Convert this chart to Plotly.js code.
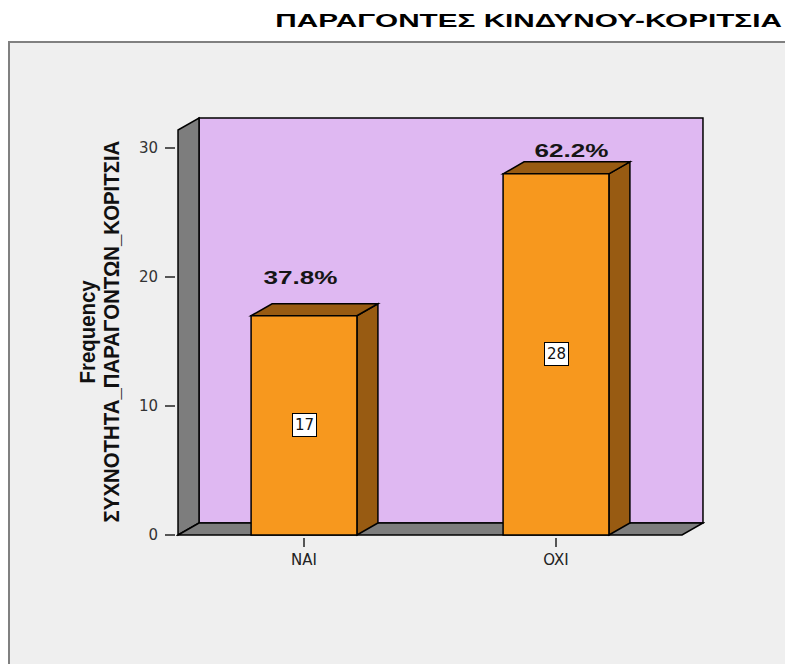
<!DOCTYPE html>
<html>
<head>
<meta charset="utf-8">
<script src="https://cdn.plot.ly/plotly-3.0.1.min.js"></script>
<style>
html,body{margin:0;padding:0;background:#ffffff;overflow:hidden;width:785px;height:664px;}
#frame{position:absolute;left:8px;top:41px;width:820px;height:700px;border:2px solid #808080;background:#efefef;box-sizing:border-box;}
#chart{position:absolute;left:0;top:0;width:785px;height:664px;}
</style>
</head>
<body>
<div id="frame"></div>
<div id="chart"></div>
<script>
// ---- data ----
const categories = ['NAI', 'OXI'];
const frequencies = [17, 28];
const percentLabels = ['37.8%', '62.2%'];
const yTickValues = [0, 10, 20, 30];
const yTickLabels = ['0', '10', '20', '30'];
const chartTitle = 'ΠΑΡΑΓΟΝΤΕΣ ΚΙΝΔΥΝΟΥ-ΚΟΡΙΤΣΙΑ';
const yTitleLines = ['Frequency', 'ΣΥΧΝΟΤΗΤΑ_ΠΑΡΑΓΟΝΤΩΝ_ΚΟΡΙΤΣΙΑ'];

// ---- style / 3D geometry ----
const BAR_W = 0.42;          // bar width in category units
const DX = 0.0833;           // depth offset (x units)
const DY = 0.93;             // depth offset (y units)
const FRONT_TOP = 31.4;      // top of the front plane
const X0 = -0.5, X1 = 1.5;   // front plane extent
const EPS_X = 0.008, EPS_Y = 0.155;
const ORANGE = '#f7981e', BROWN = '#985b12', LILAC = '#dfb8f2', GRAY = '#7d7d7d';
const EDGE = {color: '#000000', width: 1.5};
const pctShift = [{x: -4, y: 38}, {x: 15, y: 23}];   // label nudges (px)
const yTitleShift = [-88, -64];                        // x offsets of the two title lines (px)

const xIdx = categories.map((c, i) => i);

const shapes = [];
// back wall
shapes.push({type: 'rect', xref: 'x', yref: 'y', layer: 'below',
  x0: X0 + DX, x1: X1 + DX, y0: DY, y1: FRONT_TOP + DY,
  fillcolor: LILAC, line: EDGE});
// left wall
shapes.push({type: 'path', xref: 'x', yref: 'y', layer: 'below',
  path: `M ${X0},0 L ${X0 + DX},${DY} L ${X0 + DX},${FRONT_TOP + DY} L ${X0},${FRONT_TOP} Z`,
  fillcolor: GRAY, line: EDGE});
// floor
shapes.push({type: 'path', xref: 'x', yref: 'y', layer: 'below',
  path: `M ${X0},0 L ${X1},0 L ${X1 + DX},${DY} L ${X0 + DX},${DY} Z`,
  fillcolor: GRAY, line: EDGE});
// bar side & top faces
xIdx.forEach((xi, i) => {
  const v = frequencies[i];
  const l = xi - BAR_W / 2, r = xi + BAR_W / 2;
  shapes.push({type: 'path', xref: 'x', yref: 'y', layer: 'below',
    path: `M ${r},0 L ${r + DX},${DY} L ${r + DX},${v + DY} L ${r},${v} Z`,
    fillcolor: BROWN, line: EDGE});
  shapes.push({type: 'path', xref: 'x', yref: 'y', layer: 'below',
    path: `M ${l},${v} L ${l + DX},${v + DY} L ${r + DX},${v + DY} L ${r},${v} Z`,
    fillcolor: BROWN, line: EDGE});
});

const annotations = [];
// value boxes in bars
xIdx.forEach((xi, i) => {
  annotations.push({x: xi, y: frequencies[i] / 2, xref: 'x', yref: 'y',
    text: String(frequencies[i]), showarrow: false,
    font: {family: 'DejaVu Sans, Liberation Sans, sans-serif', size: 15, color: '#111'},
    bgcolor: '#ffffff', bordercolor: '#000000', borderwidth: 1, borderpad: 2,
    xanchor: 'center', yanchor: 'middle'});
});
const pctStart = annotations.length;
// percentage labels above bars
xIdx.forEach((xi, i) => {
  annotations.push({x: xi, y: frequencies[i], xref: 'x', yref: 'y',
    text: '<b>' + percentLabels[i] + '</b>', showarrow: false,
    xshift: pctShift[i].x, yshift: pctShift[i].y,
    font: {family: 'Liberation Sans, Arial, sans-serif', size: 18, color: '#151515'},
    xanchor: 'center', yanchor: 'middle'});
});
// y axis title (two lines, rotated)
const yTitleStart = annotations.length;
yTitleLines.forEach((line, k) => {
  annotations.push({xref: 'paper', yref: 'paper', x: 0, y: 0.5, xshift: yTitleShift[k], yshift: -5,
    text: '<b>' + line + '</b>', showarrow: false, textangle: -90,
    font: {family: 'Liberation Sans, Arial, sans-serif', size: 22, color: '#111'},
    xanchor: 'center', yanchor: 'middle'});
});

const data = [{
  type: 'bar', x: xIdx, y: frequencies, width: BAR_W,
  marker: {color: ORANGE, line: EDGE},
  hoverinfo: 'skip', showlegend: false
}];

const layout = {
  width: 785, height: 664,
  paper_bgcolor: 'rgba(0,0,0,0)', plot_bgcolor: 'rgba(0,0,0,0)',
  margin: {l: 176, r: 80, t: 116, b: 127, pad: 0},
  title: {text: '<b>' + chartTitle + '</b>', xref: 'container', yref: 'container',
    x: 782 / 785, xanchor: 'right', y: 1 - 21 / 664, yanchor: 'middle',
    font: {family: 'Liberation Sans, Arial, sans-serif', size: 18, color: '#000'}},
  xaxis: {range: [X0 - EPS_X, X1 + DX + EPS_X], tickmode: 'array', tickvals: xIdx, ticktext: categories,
    showgrid: false, zeroline: false, showline: false, ticks: 'outside', ticklen: 9, tickwidth: 1.5,
    tickcolor: '#555', tickfont: {family: 'DejaVu Sans, sans-serif', size: 15, color: '#222'}, fixedrange: true},
  yaxis: {range: [-EPS_Y, FRONT_TOP + DY + EPS_Y], tickmode: 'array', tickvals: yTickValues, ticktext: yTickLabels,
    showgrid: false, zeroline: false, showline: false, ticks: 'outside', ticklen: 10, tickwidth: 1.5,
    tickcolor: '#555', ticklabelstandoff: 4,
    tickfont: {family: 'DejaVu Sans, sans-serif', size: 15, color: '#333'}, fixedrange: true},
  shapes: shapes,
  annotations: annotations,
  bargap: 0
};

function stretch(el, factor, origin) {
  el.style.transformBox = 'fill-box';
  el.style.transformOrigin = origin;
  el.style.transform = 'scaleX(' + factor + ')';
}

Plotly.newPlot('chart', data, layout, {staticPlot: true, displayModeBar: false}).then(() => {
  const t = document.querySelector('.gtitle');
  if (t) stretch(t, 507 / t.getBBox().width, 'right center');
  const titleTexts = [];
  document.querySelectorAll('g.annotation').forEach(g => {
    const idx = +g.getAttribute('data-index');
    const tx = g.querySelector('text.annotation-text');
    if (!tx) return;
    if (idx >= pctStart && idx < pctStart + categories.length) stretch(tx, 1.45, 'center');
    if (idx >= yTitleStart) titleTexts.push(tx);
  });
  // condense the rotated y title along its baseline so the long line spans ~382px
  if (titleTexts.length === 2) {
    const k = 382 / titleTexts[1].getBBox().width;
    titleTexts.forEach(tx => stretch(tx, k, 'center'));
  }
});
</script>
</body>
</html>
